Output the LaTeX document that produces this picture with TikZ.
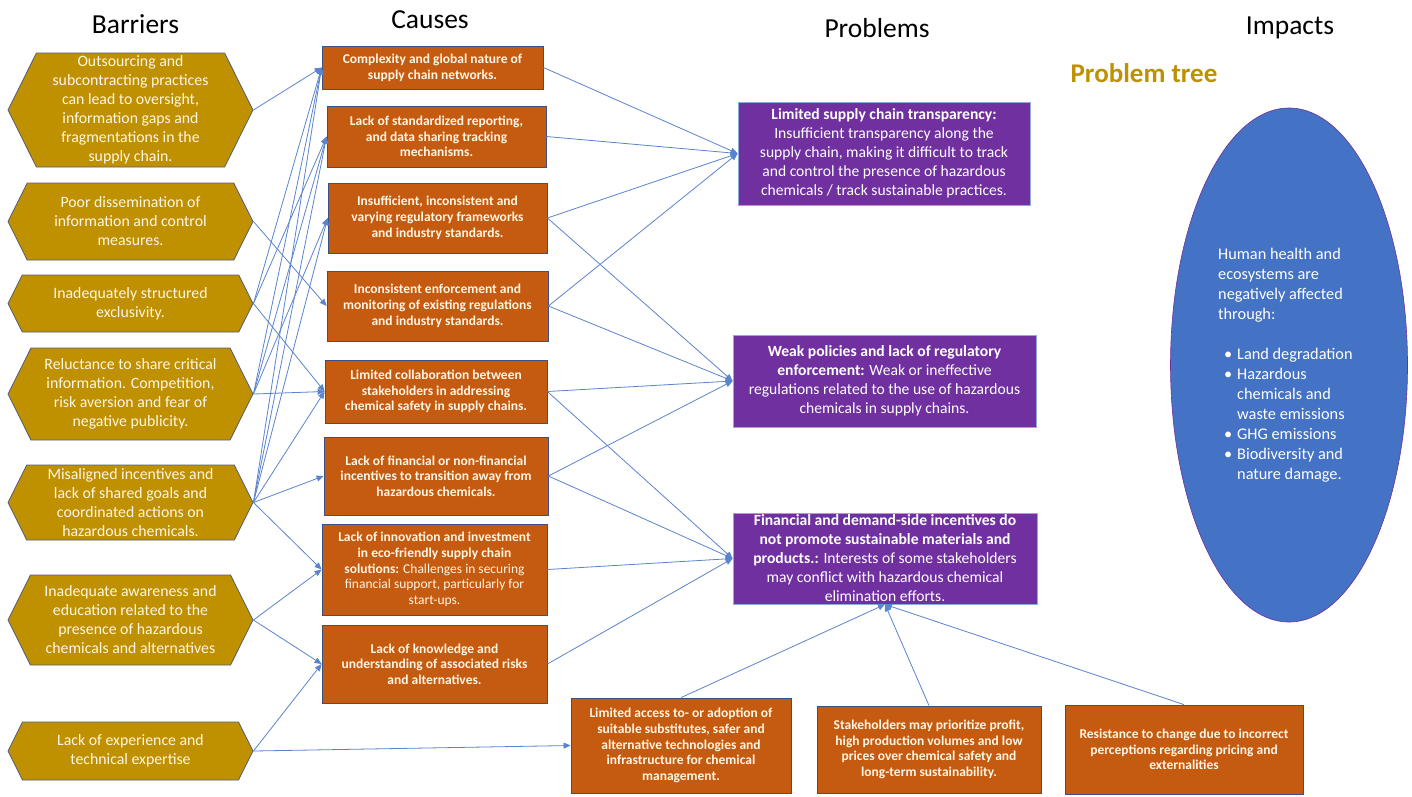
\documentclass[tikz,border=0pt]{standalone}
\usepackage{fontspec}
\setmainfont{Carlito}
\usetikzlibrary{shapes.symbols,shapes.geometric,arrows.meta}
\definecolor{gold}{RGB}{191,144,0}
\definecolor{bdr}{RGB}{84,96,120}
\definecolor{cream}{RGB}{255,246,228}
\definecolor{causeor}{RGB}{197,90,17}
\definecolor{cbdr}{RGB}{60,80,130}
\definecolor{purp}{RGB}{112,48,160}
\definecolor{pbdr}{RGB}{143,170,220}
\definecolor{ellblue}{RGB}{68,114,196}
\definecolor{lineblue}{RGB}{90,132,205}
\begin{document}
\begin{tikzpicture}[x=1pt,y=-1pt,
  barrier/.style={shape=signal, signal to=east and west, signal pointer angle=127,
    fill=gold, draw=bdr, line width=0.8pt, text=cream, align=center,
    font=\fontsize{15.8}{19}\selectfont, minimum width=245pt, inner sep=0pt},
  cause/.style={rectangle, fill=causeor, draw=cbdr, line width=0.8pt, text=cream,
    align=center, font=\bfseries\fontsize{13.5}{15.7}\selectfont, inner sep=0pt},
  prob/.style={rectangle, fill=purp, draw=pbdr, line width=0.8pt, text=white,
    align=center, font=\fontsize{15.6}{19}\selectfont, inner sep=0pt},
  header/.style={font=\fontsize{27.5}{32}\selectfont, text=black},
  conn/.style={draw=lineblue, line width=0.8pt, -{Triangle[length=7pt,width=6pt]}}]
\useasboundingbox (0,0) rectangle (1412,796);
\fill[white] (0,0) rectangle (1412,796);

% headers
\node[header] (hb) at (135.5,24) {Barriers};
\node[header] (hc) at (430,20) {Causes};
\node[header] (hp) at (877,28) {Problems};
\node[header] (hi) at (1290,28) {Impacts};
\node[font=\bfseries\fontsize{27}{32}\selectfont, text=gold] (pt) at (1144,73) {Problem tree};

% barriers
\node[barrier, minimum height=114pt] (b1) at (130.5,110) {Outsourcing and\\subcontracting practices\\can lead to oversight,\\information gaps and\\fragmentations in the\\supply chain.};
\node[barrier, minimum height=77pt] (b2) at (130.5,221.5) {Poor dissemination of\\information and control\\measures.};
\node[barrier, minimum height=57pt] (b3) at (130.5,303.5) {Inadequately structured\\exclusivity.};
\node[barrier, minimum height=92pt] (b4) at (130.5,394) {Reluctance to share critical\\information. Competition,\\risk aversion and fear of\\negative publicity.};
\node[barrier, minimum height=75pt] (b5) at (130.5,502.5) {Misaligned incentives and\\lack of shared goals and\\coordinated actions on\\hazardous chemicals.};
\node[barrier, minimum height=90pt] (b6) at (130.5,620) {Inadequate awareness and\\education related to the\\presence of hazardous\\chemicals and alternatives};
\node[barrier, minimum height=58pt] (b7) at (130.5,751) {Lack of experience and\\technical expertise};

% causes
\node[cause, minimum width=221pt, minimum height=43pt] (c1) at (432.5,67.5) {Complexity and global nature of\\supply chain networks.};
\node[cause, minimum width=219pt, minimum height=61pt] (c2) at (436.5,136.5) {Lack of standardized reporting,\\and data sharing tracking\\mechanisms.};
\node[cause, minimum width=219pt, minimum height=70pt] (c3) at (437.5,218) {Insufficient, inconsistent and\\varying regulatory frameworks\\and industry standards.};
\node[cause, minimum width=221pt, minimum height=70pt] (c4) at (437.5,306) {Inconsistent enforcement and\\monitoring of existing regulations\\and industry standards.};
\node[cause, minimum width=222pt, minimum height=63pt] (c5) at (436,391.5) {Limited collaboration between\\stakeholders in addressing\\chemical safety in supply chains.};
\node[cause, minimum width=224pt, minimum height=78pt] (c6) at (436,476) {Lack of financial or non-financial\\incentives to transition away from\\hazardous chemicals.};
\node[cause, minimum width=225pt, minimum height=91pt] (c7) at (434.5,569.5) {Lack of innovation and investment\\in eco-friendly supply chain\\solutions:\mdseries{} Challenges in securing\\\mdseries financial support, particularly for\\\mdseries start-ups.};
\node[cause, minimum width=225pt, minimum height=78pt] (c8) at (434.5,664) {Lack of knowledge and\\understanding of associated risks\\and alternatives.};

% problems
\node[prob, minimum width=292pt, minimum height=103pt] (p1) at (884,153.5) {\textbf{Limited supply chain transparency:}\\Insufficient transparency along the\\supply chain, making it difficult to track\\and control the presence of hazardous\\chemicals / track sustainable practices.};
\node[prob, minimum width=303pt, minimum height=92pt] (p2) at (884.5,381) {\textbf{Weak policies and lack of regulatory}\\\textbf{enforcement:} Weak or ineffective\\regulations related to the use of hazardous\\chemicals in supply chains.};
\node[prob, minimum width=304pt, minimum height=91pt] (p3) at (885,558.5) {\textbf{Financial and demand-side incentives do}\\\textbf{not promote sustainable materials and}\\\textbf{products.:} Interests of some stakeholders\\may conflict with hazardous chemical\\elimination efforts.};

% bottom causes
\node[cause, minimum width=220pt, minimum height=95pt] (d1) at (681,745.5) {Limited access to- or adoption of\\suitable substitutes, safer and\\alternative technologies and\\infrastructure for chemical\\management.};
\node[cause, minimum width=224pt, minimum height=87pt] (d2) at (929,749.5) {Stakeholders may prioritize profit,\\high production volumes and low\\prices over chemical safety and\\long-term sustainability.};
\node[cause, minimum width=238pt, minimum height=89pt] (d3) at (1184,749.5) {Resistance to change due to incorrect\\perceptions regarding pricing and\\externalities};

% impacts
\node[ellipse, fill=ellblue, draw=purp, line width=0.6pt, minimum width=237pt, minimum height=514pt, inner sep=0pt] (im) at (1289,365) {};
\node[anchor=north west, inner sep=0pt, text=white, align=left, font=\fontsize{16.3}{20}\selectfont] (imt) at (1218,248) {Human health and\\ecosystems are\\negatively affected\\through:\\[20pt]\hspace*{6pt}\makebox[13pt][l]{•}Land degradation\\\hspace*{6pt}\makebox[13pt][l]{•}Hazardous\\\hspace*{19pt}chemicals and\\\hspace*{19pt}waste emissions\\\hspace*{6pt}\makebox[13pt][l]{•}GHG emissions\\\hspace*{6pt}\makebox[13pt][l]{•}Biodiversity and\\\hspace*{19pt}nature damage.};

% barrier -> cause
\draw[conn] (b1.east) -- (c1.west);
\draw[conn] (b2.east) -- (c4.west);
\draw[conn] (b3.east) -- (c1.west);
\draw[conn] (b3.east) -- (c2.west);
\draw[conn] (b3.east) -- (c5.west);
\draw[conn] (b4.east) -- (c1.west);
\draw[conn] (b4.east) -- (c2.west);
\draw[conn] (b4.east) -- (c3.west);
\draw[conn] (b4.east) -- (c5.west);
\draw[conn] (b5.east) -- (c1.west);
\draw[conn] (b5.east) -- (c2.west);
\draw[conn] (b5.east) -- (c3.west);
\draw[conn] (b5.east) -- (c5.west);
\draw[conn] (b5.east) -- (c6.west);
\draw[conn] (b5.east) -- (c7.west);
\draw[conn] (b6.east) -- (c7.west);
\draw[conn] (b6.east) -- (c8.west);
\draw[conn] (b7.east) -- (c8.west);
\draw[conn] (b7.east) -- (d1.west);

% cause -> problem
\draw[conn] (c1.east) -- (p1.west);
\draw[conn] (c2.east) -- (p1.west);
\draw[conn] (c3.east) -- (p1.west);
\draw[conn] (c3.east) -- (p2.west);
\draw[conn] (c4.east) -- (p1.west);
\draw[conn] (c4.east) -- (p2.west);
\draw[conn] (c5.east) -- (p2.west);
\draw[conn] (c5.east) -- (p3.west);
\draw[conn] (c6.east) -- (p2.west);
\draw[conn] (c6.east) -- (p3.west);
\draw[conn] (c7.east) -- (p3.west);
\draw[conn] (c8.east) -- (p3.west);

% bottom -> problem 3
\draw[conn] (d1.north) -- (p3.south);
\draw[conn] (d2.north) -- (p3.south);
\draw[conn] (d3.north) -- (p3.south);
\end{tikzpicture}
\end{document}
